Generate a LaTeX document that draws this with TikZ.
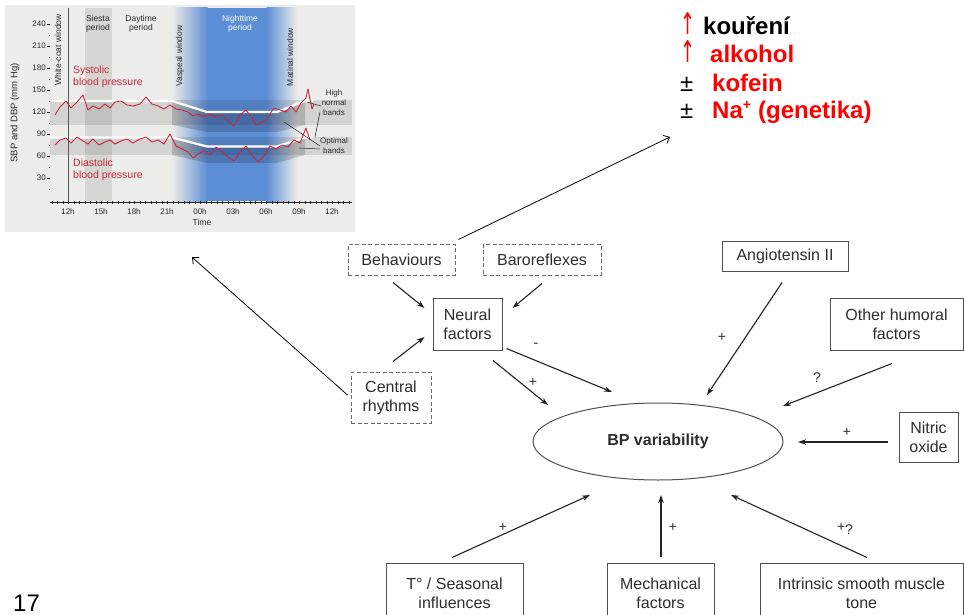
\documentclass[tikz,border=0pt]{standalone}
\usepackage{fontspec}
\setmainfont{Liberation Sans}
\newfontfamily\symfont{DejaVu Sans}
\usetikzlibrary{arrows.meta,calc,shapes.geometric,fit}
\definecolor{txt}{RGB}{45,45,45}
\definecolor{boxc}{RGB}{80,80,80}
\definecolor{dboxc}{RGB}{105,105,105}
\definecolor{arrc}{RGB}{35,35,35}
\definecolor{chbg}{RGB}{236,236,234}
\definecolor{siesta}{RGB}{214,214,211}
\definecolor{nblue}{RGB}{92,142,214}
\definecolor{bpred}{RGB}{200,40,60}
\definecolor{chtxt}{RGB}{40,40,40}
\tikzset{
  fbox/.style={draw=boxc, line width=1pt, align=center, text=txt, font=\fontsize{16}{19}\selectfont, inner sep=0pt},
  dbox/.style={fbox, draw=dboxc, dash pattern=on 4pt off 2.5pt},
  arr/.style={-{Stealth[length=8pt,width=5.5pt]}, line width=1.1pt, draw=arrc},
  thinarr/.style={-{Straight Barb[length=5pt,width=9pt]}, line width=0.8pt, draw=black},
  sign/.style={text=txt, font=\fontsize{14}{14}\selectfont, inner sep=0pt},
  chlab/.style={text=chtxt, font=\fontsize{8.5}{9.5}\selectfont, inner sep=0pt, align=center},
  axlab/.style={text=chtxt, font=\fontsize{8}{9}\selectfont, inner sep=0pt},
  redlab/.style={text=bpred, font=\fontsize{10.5}{12}\selectfont, inner sep=0pt, align=left},
  listtxt/.style={inner sep=0pt, anchor=base west, font=\fontsize{24}{24}\selectfont},
  trace/.style={draw=bpred, line width=0.9pt, line join=round},
}
\newcommand{\uparr}{\scalebox{0.75}[1.25]{\symfont ↑}}
\begin{document}
\begin{tikzpicture}[x=1pt,y=-1pt]
\useasboundingbox (0,0) rectangle (964,615);
\clip (0,0) rectangle (964,615);

% ---------------- chart ----------------
\fill[chbg] (5,5) rectangle (355,232);
\node[fit={(5,5) (355,232)}, inner sep=0pt] (chart) {};
\fill[siesta] (85,8) rectangle (112,201);
\shade[left color=chbg, right color=nblue] (172,8) rectangle (207.5,201);
\fill[nblue] (207,8) rectangle (267,201);
\shade[left color=nblue, right color=chbg] (266.5,8) rectangle (297,201);
% bands
\fill[black, opacity=.10] (50,100) rectangle (352,125);
\fill[black, opacity=.10] (50,137) rectangle (352,155);
\fill[black, opacity=.16] (172,101) -- (207,112) -- (277,112) -- (305,101) -- (305,125) -- (277,132) -- (207,132) -- (172,125) -- cycle;
\fill[black, opacity=.16] (172,137.5) -- (207,146.5) -- (277,146.5) -- (305,137.5) -- (305,155) -- (277,163) -- (207,163) -- (172,155) -- cycle;
\draw[white, line width=2.2pt] (50,101) -- (172,101) -- (207,112) -- (277,112) -- (305,101) -- (313,101);
\draw[white, line width=2.2pt] (50,137.5) -- (172,137.5) -- (207,146.5) -- (277,146.5) -- (305,137.5) -- (313,137.5);
% white coat line
\draw[black!65, line width=1pt] (68,8) -- (68,202);
% traces
\draw[trace] plot coordinates {(55,115)(60,107)(66,101)(71,108)(77,102)(83,95)(88,110)(93,106)(99,109)(105,104)(110,108)(115,102)(121,101)(127,105)(133,106)(140,104)(146,97)(152,104)(158,106)(164,109)(170,105)(176,109)(182,110)(188,112)(193,116)(198,114)(204,117)(210,114)(216,117)(222,115)(228,121)(234,126)(240,115)(246,110)(252,118)(256,125)(262,123)(268,117)(274,108)(280,110)(286,112)(291,106)(296,112)(301,103)(306,98)(308,89)(312,109)(314,104)};
\draw[trace] plot coordinates {(55,145)(60,140)(66,138)(71,143)(77,137)(83,141)(88,144)(93,139)(99,145)(105,142)(110,140)(115,144)(121,141)(127,139)(133,143)(140,139)(146,137)(152,142)(158,140)(164,144)(170,134)(176,146)(182,149)(188,152)(193,158)(198,154)(204,151)(210,155)(216,147)(222,152)(228,157)(234,161)(240,152)(246,146)(252,155)(258,162)(264,156)(270,146)(276,149)(282,145)(288,147)(294,140)(300,143)(306,128)(310,140)};
% axes
\foreach \v/\yy in {30/178,60/156,90/134,120/112,150/90,180/68,210/46,240/24} {
  \node[axlab, anchor=east] at (46,\yy) {\v};
  \draw[chtxt, line width=0.6pt] (47,\yy) -- (50,\yy);
}
\foreach \yy in {189,167,145,123,101,79,57,35} \draw[chtxt, line width=0.5pt] (48.5,\yy) -- (50,\yy);
\draw[chtxt, line width=0.7pt] (50,202) -- (352,202);
\foreach \i in {0,...,54} \draw[chtxt, line width=0.6pt] ({52+5.5*\i},200.5) -- ++(0,3.5);
\foreach \t [count=\k from 0] in {12h,15h,18h,21h,00h,03h,06h,09h,12h}
  \node[axlab] at ({68+33*\k},212) {\t};
\node[axlab, font=\fontsize{8.5}{9}\selectfont] at (202,222) {Time};
\node[axlab, rotate=90, font=\fontsize{9.5}{10}\selectfont] at (15,113) {SBP and DBP (mm Hg)};
% chart labels
\node[chlab] at (98,24) {Siesta\\period};
\node[chlab] at (141,24) {Daytime\\period};
\node[chlab, text=white] at (240,24) {Nighttime\\period};
\node[chlab, rotate=90] at (58,50) {White-coat window};
\node[chlab, rotate=90] at (180,56) {Vaspeal window};
\node[chlab, rotate=90] at (290,57) {Matinal window};
\node[redlab, anchor=west] at (73,77) {Systolic\\blood pressure};
\node[redlab, anchor=west] at (73,170) {Diastolic\\blood pressure};
\node[chlab, font=\fontsize{8}{10}\selectfont] (hn) at (334,103) {High\\normal\\bands};
\node[chlab, font=\fontsize{8}{10}\selectfont] (ob) at (334,146) {Optimal\\bands};
\draw[chtxt, line width=0.5pt] (321,106) -- (307,102);
\draw[chtxt, line width=0.5pt] (320,112) -- (315,137);
\draw[chtxt, line width=0.5pt] (320,146) -- (284,122);
\draw[chtxt, line width=0.5pt] (320,149) -- (299,148);

% ---------------- list ----------------
\node[listtxt, text=red] (u1) at (680,35) {\uparr};
\node[listtxt] (l1) at (703,35) {\textbf{kouření}};
\node[listtxt, text=red] (u2) at (680,63) {\uparr};
\node[listtxt, text=red] (l2) at (710,63) {\textbf{alkohol}};
\node[listtxt] (p3) at (680,92) {±};
\node[listtxt, text=red] (l3) at (712,92) {\textbf{kofein}};
\node[listtxt] (p4) at (680,119) {±};
\node[listtxt, text=red] (l4) at (712,119) {\textbf{Na\textsuperscript{\fontsize{14}{14}\selectfont +} (genetika)}};
\coordinate (listtip) at (670,137);
\coordinate (charttip) at ($(chart.south)+(12,25)$);

% ---------------- diagram ----------------
\node[dbox, minimum width=107pt, minimum height=31pt] (beh) at (401.5,259.5) {Behaviours};
\node[dbox, minimum width=118pt, minimum height=31pt] (baro) at (542,259.5) {Baroreflexes};
\node[fbox, minimum width=69pt, minimum height=52pt] (neural) at (467.5,324) {Neural\\factors};
\node[dbox, minimum width=80pt, minimum height=51pt] (central) at (391,397.5) {Central\\rhythms};
\node[fbox, minimum width=126pt, minimum height=30pt] (angio) at (785,256) {Angiotensin II};
\node[fbox, minimum width=133pt, minimum height=52pt] (humoral) at (896.5,324) {Other humoral\\factors};
\node[fbox, minimum width=59pt, minimum height=50pt] (nitric) at (928.5,437) {Nitric\\oxide};
\node[ellipse, draw=boxc, line width=1pt, minimum width=250pt, minimum height=77pt, inner sep=0pt, text=txt, font=\fontsize{16}{19}\selectfont\bfseries] (bp) at (658,441.5) {BP variability};
\node[fbox, minimum width=137pt, minimum height=60pt] (temp) at (454.5,593) {T° / Seasonal\\influences};
\node[fbox, minimum width=107pt, minimum height=60pt] (mech) at (660.5,593) {Mechanical\\factors};
\node[fbox, minimum width=203pt, minimum height=60pt] (intr) at (861.5,593) {Intrinsic smooth muscle\\tone};
\node[anchor=base west, inner sep=0pt, font=\fontsize{24}{24}\selectfont] (pg) at (13,611) {17};

% arrows
\draw[arr] ($(beh.south)+(-8.5,7)$) -- ($(neural.west)+(-8,-16)$);
\draw[arr] ($(baro.south)+(0,8)$) -- ($(neural.east)+(10,-16)$);
\draw[arr] ($(central.north)+(2,-10)$) -- ($(neural.west)+(-8,13)$);
\draw[arr] ($(neural.south)+(25.5,10)$) -- ($(bp.center)+(-110,-36.5)$);
\draw[arr] ($(neural.south east)+(4,-2)$) -- ($(bp.center)+(-46,-49.5)$);
\draw[arr] ($(angio.south)+(-3,11)$) -- ($(bp.center)+(49,-46.5)$);
\draw[arr] ($(humoral.south)+(-4.5,13)$) -- ($(bp.center)+(125,-35.5)$);
\draw[arr] ($(nitric.west)+(-11,5)$) -- ($(bp.center)+(140,0.5)$);
\draw[arr] ($(temp.north)+(-2.5,-5)$) -- ($(bp.center)+(-68,53.5)$);
\draw[arr] ($(mech.north)+(0.5,-6)$) -- ($(bp.center)+(3,53.5)$);
\draw[arr] ($(intr.north)+(5.5,-5)$) -- ($(bp.center)+(73,53.5)$);
\draw[thinarr] ($(beh.north east)+(3,-4)$) -- (listtip);
\draw[thinarr] ($(central.west)+(-3,-2.5)$) -- (charttip);

% signs
\node[sign] at (533,382) {+};
\node[sign] at (536,345) {-};
\node[sign] at (722,337) {+};
\node[sign] at (817,378) {?};
\node[sign] at (847,432) {+};
\node[sign] at (503,527) {+};
\node[sign] at (673,527) {+};
\node[sign] at (845,529) {\raisebox{3pt}{+}?};
\end{tikzpicture}
\end{document}
